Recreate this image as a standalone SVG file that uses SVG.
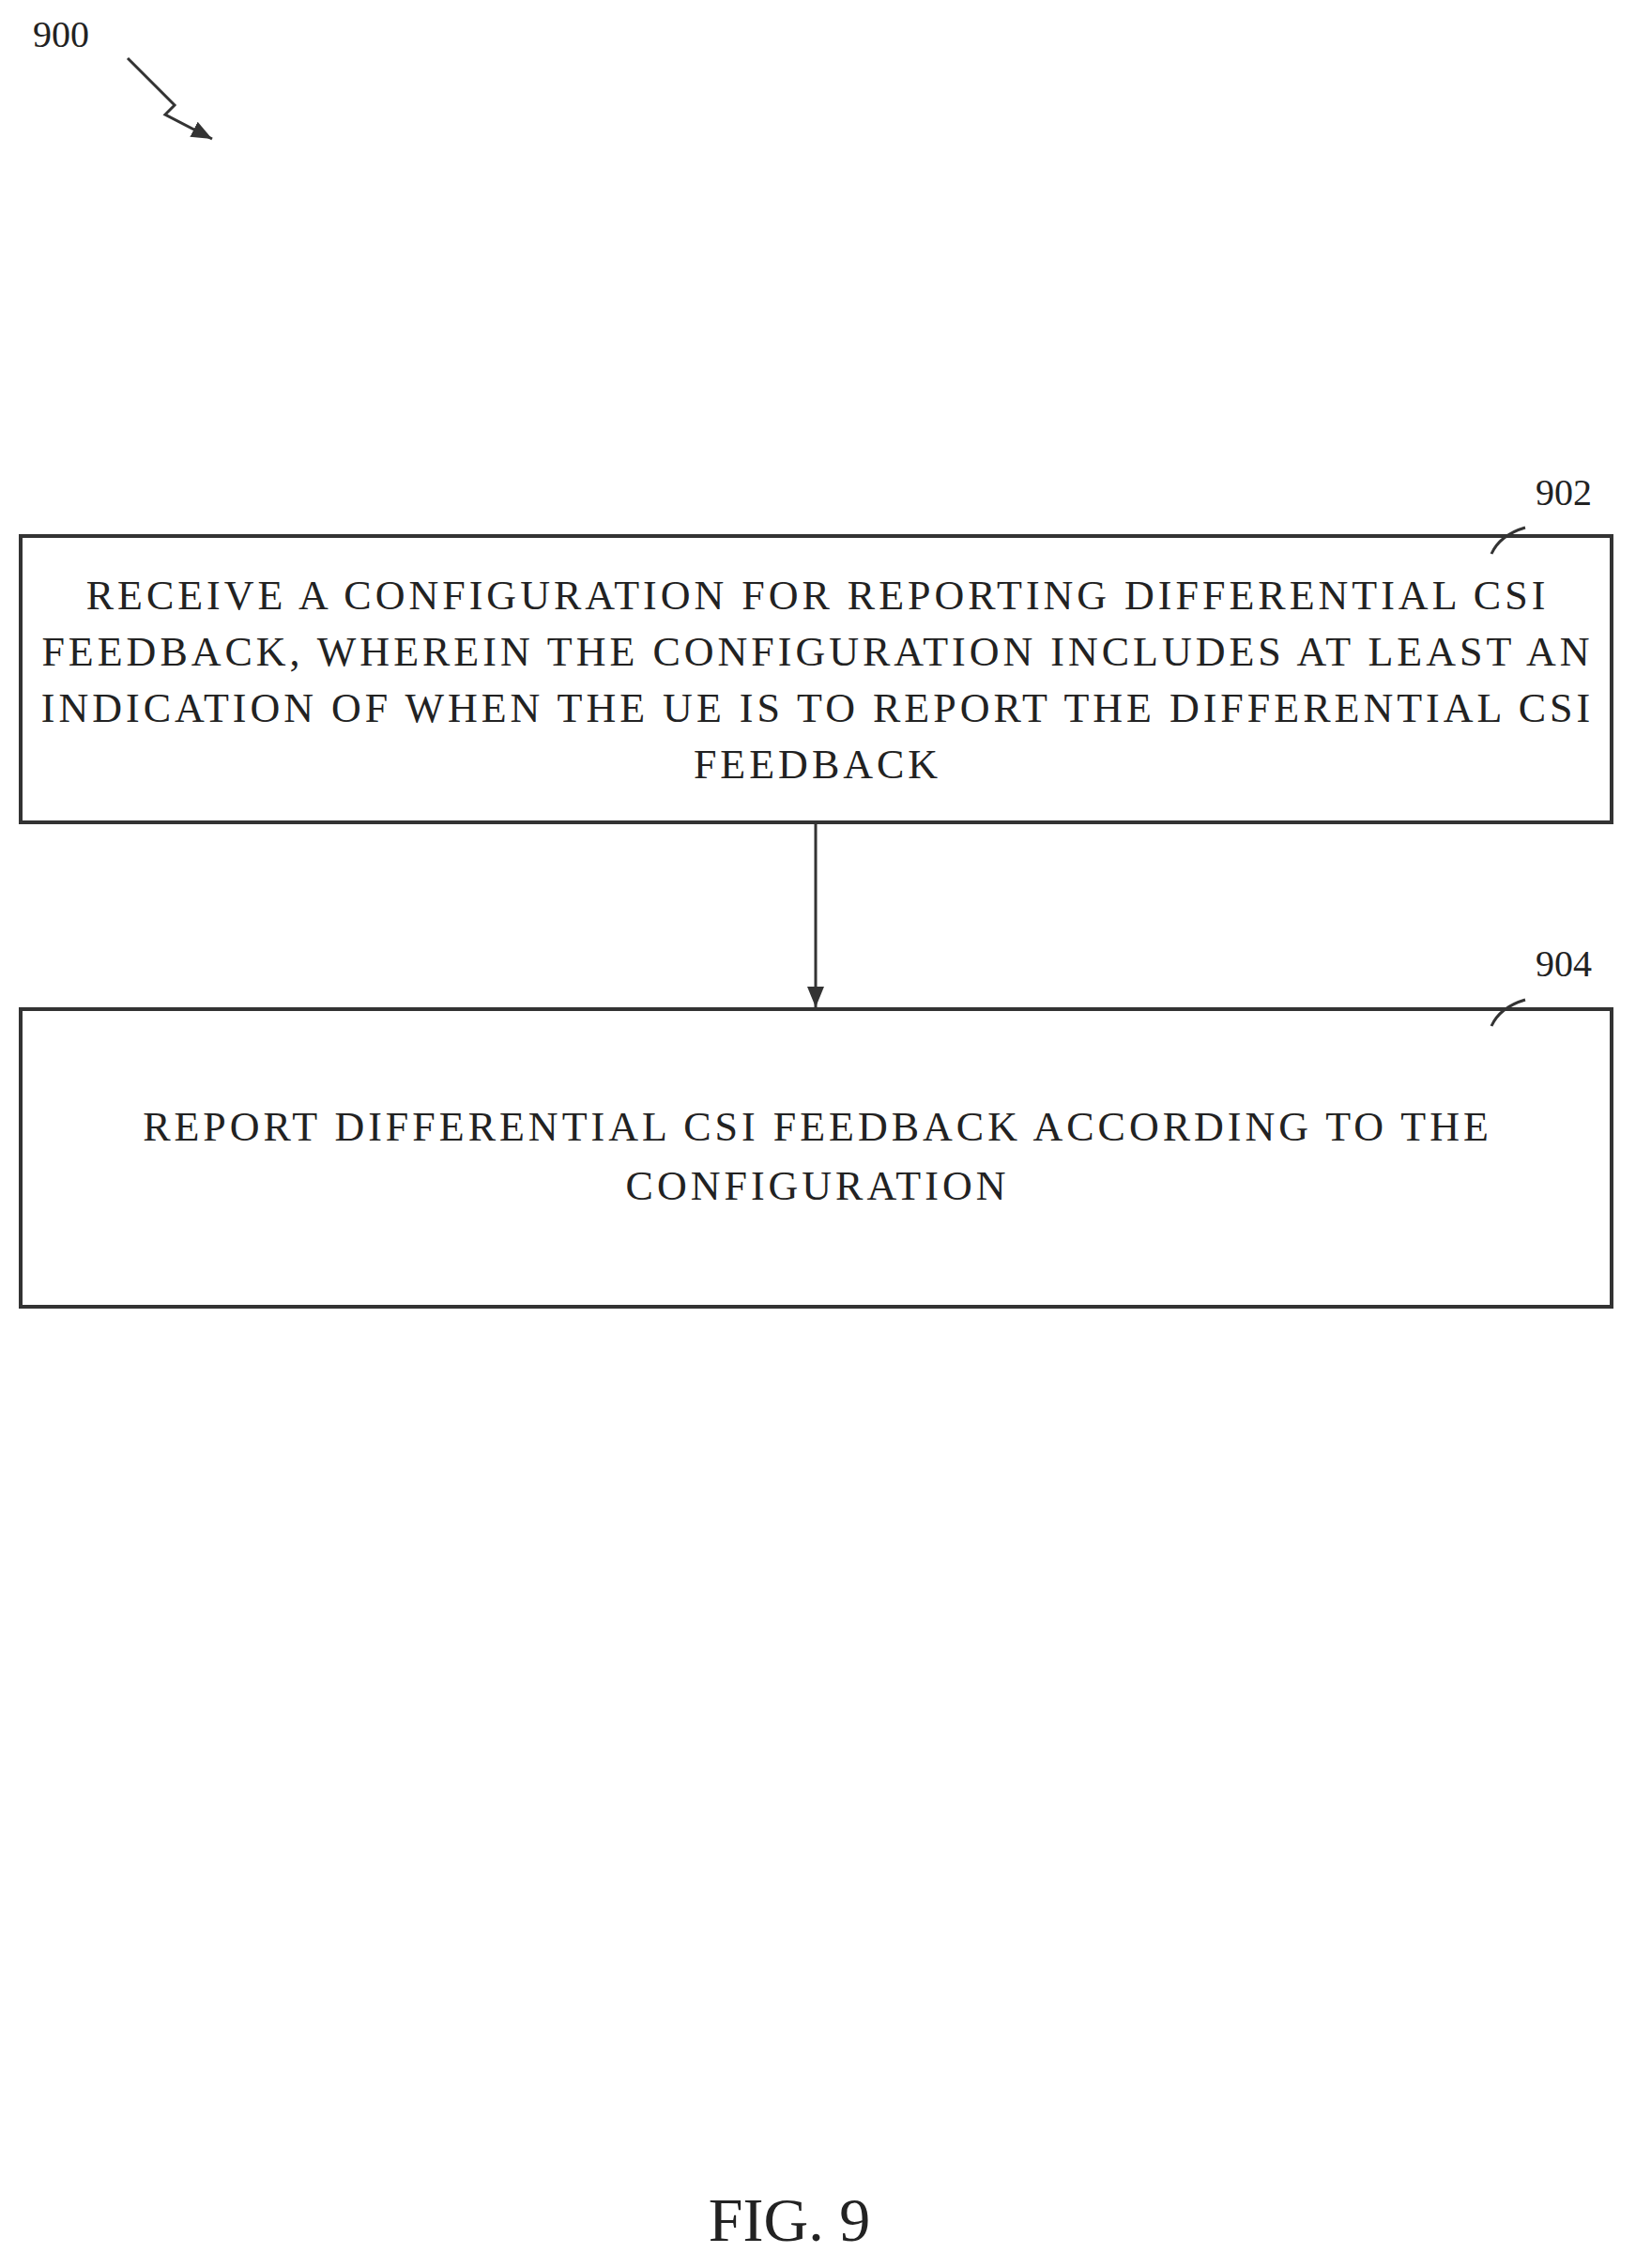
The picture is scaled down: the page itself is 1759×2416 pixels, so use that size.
<svg xmlns="http://www.w3.org/2000/svg" width="1759" height="2416" viewBox="0 0 1759 2416">
<style>
text{font-family:"Liberation Serif",serif;fill:#222;}
.t{font-size:44px;text-anchor:middle;letter-spacing:4px;}
.box{fill:#fff;stroke:#333;stroke-width:4;}
.ln{fill:none;stroke:#333;stroke-width:3;}
</style>
<defs>
<marker id="ah2" markerWidth="24" markerHeight="24" refX="22" refY="12" orient="auto" markerUnits="userSpaceOnUse"><path d="M0,3 L22,12 L0,21 Z" fill="#333"/></marker></defs>
<rect width="1759" height="2416" fill="#fff"/>
<text x="65" y="50" font-size="40" text-anchor="middle">900</text>
<path class="ln" d="M136,62 L186,112 L176,122 L226,148" marker-end="url(#ah2)"/>
<g id="n902">
<rect class="box" x="22" y="571" width="1695" height="305"/>
<text class="t" x="871" y="649">RECEIVE A CONFIGURATION FOR REPORTING DIFFERENTIAL CSI</text>
<text class="t" x="871" y="709">FEEDBACK, WHEREIN THE CONFIGURATION INCLUDES AT LEAST AN</text>
<text class="t" x="871" y="769">INDICATION OF WHEN THE UE IS TO REPORT THE DIFFERENTIAL CSI</text>
<text class="t" x="871" y="829">FEEDBACK</text>
<path class="ln" d="M1589,590 Q1598,570 1625,562"/>
<text x="1666" y="538" font-size="40" text-anchor="middle">902</text>
</g>
<g id="n904">
<rect class="box" x="22" y="1075" width="1695" height="317"/>
<text class="t" x="871" y="1215">REPORT DIFFERENTIAL CSI FEEDBACK ACCORDING TO THE</text>
<text class="t" x="871" y="1278">CONFIGURATION</text>
<path class="ln" d="M1589,1093 Q1598,1073 1625,1065"/>
<text x="1666" y="1040" font-size="40" text-anchor="middle">904</text>
</g>
<g id="connectors">
<line class="ln" x1="869" y1="876" x2="869" y2="1073" marker-end="url(#ah2)"/>
</g>
<text x="841" y="2387" font-size="66" text-anchor="middle">FIG. 9</text>
</svg>
